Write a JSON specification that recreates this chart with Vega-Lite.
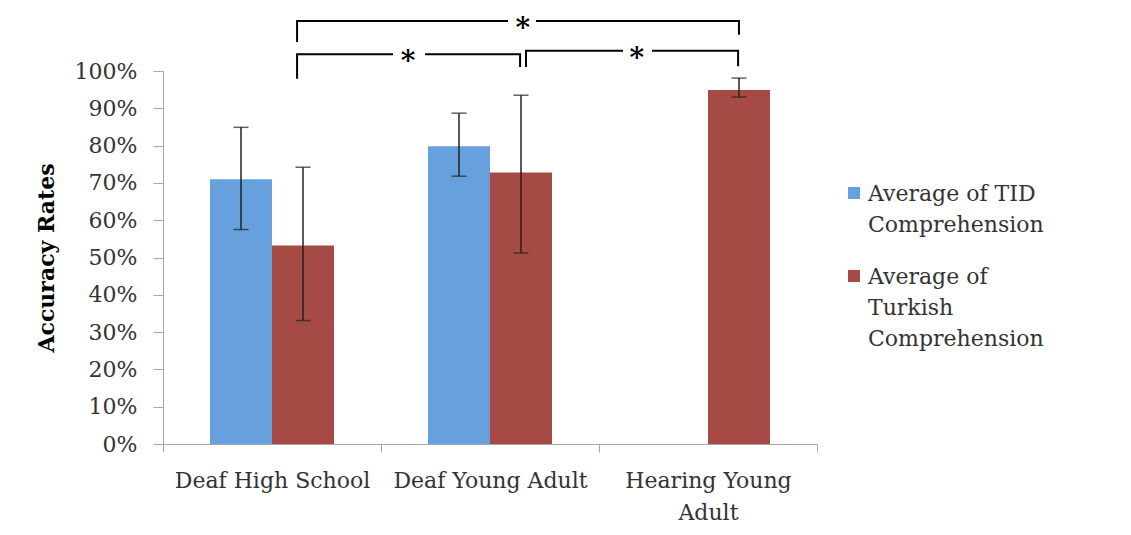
{
  "$schema": "https://vega.github.io/schema/vega-lite/v6.json",
  "width": 654,
  "height": 373,
  "autosize": "none",
  "padding": {"left": 163, "top": 71, "right": 314, "bottom": 91},
  "background": "white",
  "config": {
    "font": "DejaVu Serif",
    "view": {"stroke": null},
    "axisY": {
      "grid": false, "labelOverlap": false, "domainColor": "#a6a6a6", "tickColor": "#a6a6a6",
      "tickSize": 10, "labelPadding": 16, "labelFontSize": 22, "labelColor": "#333333",
      "titleFontSize": 22, "titleFontWeight": "bold", "titleColor": "#000000", "titlePadding": 16
    }
  },
  "resolve": {"scale": {"x": "independent", "y": "independent"}},
  "layer": [
    {
      "data": {
        "values": [
          {"group": "Deaf High School", "series": "Average of TID Comprehension", "value": 0.71, "lo": 0.575, "hi": 0.849},
          {"group": "Deaf High School", "series": "Average of Turkish Comprehension", "value": 0.532, "lo": 0.331, "hi": 0.742},
          {"group": "Deaf Young Adult", "series": "Average of TID Comprehension", "value": 0.798, "lo": 0.718, "hi": 0.887},
          {"group": "Deaf Young Adult", "series": "Average of Turkish Comprehension", "value": 0.728, "lo": 0.512, "hi": 0.935},
          {"group": "Hearing Young Adult", "series": "Average of Turkish Comprehension", "value": 0.949, "lo": 0.93, "hi": 0.981}
        ]
      },
      "encoding": {
        "x": {
          "field": "group", "type": "nominal", "sort": null,
          "scale": {"domain": ["Deaf High School", "Deaf Young Adult", "Hearing Young Adult"], "paddingInner": 0, "paddingOuter": 0},
          "axis": {
            "title": null, "labelAngle": 0, "domainColor": "#a6a6a6", "tickColor": "#a6a6a6",
            "tickBand": "extent", "tickSize": 8, "labelFontSize": 22, "labelColor": "#333333",
            "labelPadding": 18, "labelLineHeight": 32, "labelLimit": 400,
            "labelExpr": "datum.label == 'Hearing Young Adult' ? ['Hearing Young', 'Adult'] : datum.label"
          }
        },
        "xOffset": {
          "field": "series", "type": "nominal",
          "scale": {"domain": ["Average of TID Comprehension", "Average of Turkish Comprehension"], "paddingInner": 0, "paddingOuter": 0.758}
        }
      },
      "layer": [
        {
          "mark": {"type": "bar"},
          "encoding": {
            "y": {
              "field": "value", "type": "quantitative", "scale": {"domain": [0, 1], "nice": false},
              "title": "Accuracy Rates",
              "axis": {"values": [0, 0.1, 0.2, 0.3, 0.4, 0.5, 0.6, 0.7, 0.8, 0.9, 1], "format": ".0%", "title": "Accuracy Rates"}
            },
            "color": {
              "field": "series", "type": "nominal",
              "scale": {"domain": ["Average of TID Comprehension", "Average of Turkish Comprehension"], "range": ["#66a0dd", "#a64a45"]},
              "legend": {
                "title": null, "orient": "none", "legendX": 680, "legendY": 111, "padding": 0,
                "symbolType": "square", "symbolSize": 144, "symbolStrokeWidth": 0,
                "labelFontSize": 22, "labelColor": "#333333", "labelOffset": 3, "rowPadding": 29,
                "labelLimit": 400, "labelBaseline": "top",
                "labelExpr": "datum.value == 'Average of TID Comprehension' ? ['Average of TID', 'Comprehension'] : ['Average of', 'Turkish', 'Comprehension']",
                "encode": {"labels": {"update": {"lineHeight": {"value": 31}, "dy": {"value": -9}}}}
              }
            }
          }
        },
        {
          "mark": {"type": "rule", "color": "#222222", "strokeWidth": 1.5},
          "encoding": {
            "y": {
              "field": "lo", "type": "quantitative", "scale": {"domain": [0, 1], "nice": false},
              "title": "Accuracy Rates",
              "axis": {"values": [0, 0.1, 0.2, 0.3, 0.4, 0.5, 0.6, 0.7, 0.8, 0.9, 1], "format": ".0%", "title": "Accuracy Rates"}
            },
            "y2": {"field": "hi"}
          }
        },
        {
          "mark": {"type": "tick", "color": "#222222", "size": 15, "thickness": 1.5},
          "encoding": {
            "y": {
              "field": "lo", "type": "quantitative", "scale": {"domain": [0, 1], "nice": false},
              "title": "Accuracy Rates",
              "axis": {"values": [0, 0.1, 0.2, 0.3, 0.4, 0.5, 0.6, 0.7, 0.8, 0.9, 1], "format": ".0%", "title": "Accuracy Rates"}
            }
          }
        },
        {
          "mark": {"type": "tick", "color": "#222222", "size": 15, "thickness": 1.5},
          "encoding": {
            "y": {
              "field": "hi", "type": "quantitative", "scale": {"domain": [0, 1], "nice": false},
              "title": "Accuracy Rates",
              "axis": {"values": [0, 0.1, 0.2, 0.3, 0.4, 0.5, 0.6, 0.7, 0.8, 0.9, 1], "format": ".0%", "title": "Accuracy Rates"}
            }
          }
        }
      ]
    },
    {
      "layer": [
        {
          "data": {
            "values": [
              {"seg": "up1", "k": 1, "px": 0.615, "py": 1.078},
              {"seg": "up1", "k": 2, "px": 0.615, "py": 1.134},
              {"seg": "up1", "k": 3, "px": 1.583, "py": 1.134},
              {"seg": "up2", "k": 1, "px": 1.711, "py": 1.134},
              {"seg": "up2", "k": 2, "px": 2.642, "py": 1.134},
              {"seg": "up2", "k": 3, "px": 2.642, "py": 1.097},
              {"seg": "ll1", "k": 1, "px": 0.615, "py": 0.979},
              {"seg": "ll1", "k": 2, "px": 0.615, "py": 1.045},
              {"seg": "ll1", "k": 3, "px": 1.055, "py": 1.045},
              {"seg": "ll2", "k": 1, "px": 1.202, "py": 1.045},
              {"seg": "ll2", "k": 2, "px": 1.638, "py": 1.045},
              {"seg": "ll2", "k": 3, "px": 1.638, "py": 1.011},
              {"seg": "lr1", "k": 1, "px": 1.665, "py": 1.011},
              {"seg": "lr1", "k": 2, "px": 1.665, "py": 1.054},
              {"seg": "lr1", "k": 3, "px": 2.11, "py": 1.054},
              {"seg": "lr2", "k": 1, "px": 2.243, "py": 1.054},
              {"seg": "lr2", "k": 2, "px": 2.638, "py": 1.054},
              {"seg": "lr2", "k": 3, "px": 2.638, "py": 1.013}
            ]
          },
          "mark": {"type": "line", "color": "#000000", "strokeWidth": 2, "strokeJoin": "miter", "strokeCap": "butt"},
          "encoding": {
            "x": {"field": "px", "type": "quantitative", "scale": {"domain": [0, 3], "nice": false, "zero": false}, "axis": null},
            "y": {"field": "py", "type": "quantitative", "scale": {"domain": [0, 1], "nice": false}, "axis": null},
            "detail": {"field": "seg"},
            "order": {"field": "k"}
          }
        },
        {
          "data": {
            "values": [
              {"label": "*", "px": 1.651, "py": 1.134},
              {"label": "*", "px": 1.124, "py": 1.045},
              {"label": "*", "px": 2.174, "py": 1.054}
            ]
          },
          "mark": {"type": "text", "fontSize": 28, "fontWeight": "bold", "color": "#000000", "baseline": "alphabetic", "dy": 16},
          "encoding": {
            "x": {"field": "px", "type": "quantitative", "scale": {"domain": [0, 3], "nice": false, "zero": false}, "axis": null},
            "y": {"field": "py", "type": "quantitative", "scale": {"domain": [0, 1], "nice": false}, "axis": null},
            "text": {"field": "label"}
          }
        }
      ]
    }
  ]
}
